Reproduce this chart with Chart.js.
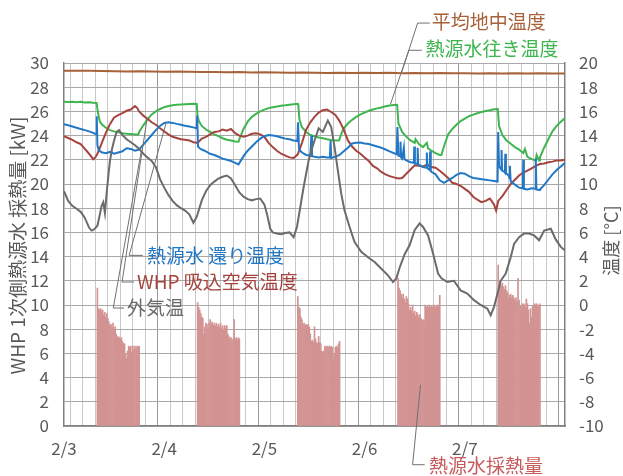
<!DOCTYPE html>
<html>
<head>
<meta charset="utf-8">
<script src="https://cdn.jsdelivr.net/npm/chart.js@4.4.1/dist/chart.umd.min.js"></script>
<style>
  html, body { margin: 0; padding: 0; background: #fff; }
  canvas { display: block; }
</style>
</head>
<body>
<canvas id="c" width="623" height="476"></canvas>
<script>
// ---- Data: time in hours from 2/3 00:00, temperatures in °C, heat in kW ----
const dayLabels = ['2/3', '2/4', '2/5', '2/6', '2/7'];

// 平均地中温度
const groundHours = [0,3,6,9,12,15,18,21,24,27,30,33,36,39,42,45,48,51,54,57,60,63,66,69,72,75,78,81,84,87,90,93,96,99,102,105,108,111,114,117,120];
const groundTemp  = [19.35,19.35,19.36,19.33,19.32,19.3,19.32,19.3,19.28,19.3,19.27,19.25,19.26,19.24,19.25,19.22,19.24,19.22,19.2,19.22,19.2,19.18,19.2,19.18,19.19,19.17,19.2,19.16,19.17,19.15,19.17,19.15,19.16,19.14,19.16,19.14,19.15,19.13,19.15,19.14,19.14];

// 熱源水往き温度
const supplyHours = [0,1,2,3,4,5,6,7,7.8,8.0,8.3,8.6,9,10,11,12,13,14,15,16,17,17.8,18,19,20,21,22,23,24,25,26,27,28,29,30,31,31.8,32.0,32.3,33,34,35,36,37,38,39,40,41,41.8,42,43,44,45,46,47,48,49,50,51,52,53,54,55,56,56.1,56.4,57,58,59,60,61,62,63,64,65,65.9,66.5,67,68,69,70,71,72,73,74,75,76,77,78,79,79.8,80.1,81,82,83,84,84.2,85,86,86.9,87.2,88,89,90,90.4,91,92,93,94,95,96,97,98,99,100,101,102,103,103.9,104.2,105,106,107,108,109,110,110.4,111,112,113,113.2,113.8,114,115,116,117,118,119,120];
const supplyTemp  = [16.8,16.78,16.8,16.76,16.8,16.74,16.76,16.72,16.7,16.2,15.6,15.15,14.95,14.65,14.45,14.35,14.27,14.2,14.16,14.13,14.1,14.1,14.3,14.85,15.35,15.75,16.0,16.2,16.35,16.45,16.5,16.55,16.58,16.6,16.62,16.64,16.62,15.6,15.2,14.8,14.5,14.3,14.1,13.95,13.78,13.66,13.6,13.52,13.5,13.7,14.55,15.15,15.55,15.8,16.0,16.15,16.27,16.35,16.4,16.46,16.5,16.55,16.6,16.63,16.6,15.3,14.7,14.3,14.05,13.95,13.85,13.78,13.7,13.64,13.6,13.62,14.2,14.6,15.0,15.3,15.55,15.75,15.9,16.05,16.15,16.25,16.33,16.42,16.48,16.52,16.55,15.0,14.3,13.9,13.6,13.4,13.7,13.3,13.05,13.4,12.95,12.75,12.55,12.4,12.4,13.1,14.1,14.55,14.9,15.2,15.4,15.6,15.73,15.85,15.95,16.03,16.1,16.18,16.2,14.8,14.05,13.6,13.33,13.05,12.85,12.55,12.9,12.25,12.05,11.95,12.4,11.95,12.2,13.0,13.7,14.35,14.8,15.15,15.45];

// 熱源水還り温度
const returnHours = [0,1,2,3,4,5,6,7,7.75,7.85,8.0,8.3,9,10,11,12,13,14,15,16,17,18,19,20,21,22,23,24,25,26,27,28,29,30,31,31.8,31.9,32.1,32.5,33,34,35,36,37,38,39,40,41,41.8,42.2,43,44,45,46,47,48,49,50,51,52,53,54,55,55.9,56.05,56.3,57,58,59,59.25,59.4,60,61,62,63,63.7,63.85,64.0,65,66,67,68,69,70,71,72,73,74,75,76,77,78,79,79.7,79.85,80.1,80.5,80.6,80.75,81,81.4,81.55,82,83,83.8,83.9,84.05,84.6,84.7,84.85,85.5,86,86.8,86.9,87.05,87.6,87.7,87.85,88,89,90,91,92,93,94,95,96,97,98,99,100,101,102,103,103.85,104.0,104.2,104.5,104.7,104.8,104.95,105.5,105.6,105.7,105.85,106.5,106.7,106.8,106.95,107,108,109,109.9,110.0,110.15,111,112,112.9,113.0,113.15,113.8,114,115,116,117,118,119,120];
const returnTemp  = [14.95,14.85,14.75,14.65,14.55,14.45,14.35,14.22,14.1,15.6,13.2,12.8,12.62,12.55,12.65,12.5,12.6,12.7,12.95,12.9,12.75,12.85,13.25,13.65,14.05,14.45,14.8,15.05,15.1,15.05,14.97,14.9,14.82,14.75,14.68,14.6,15.65,13.1,12.95,12.85,12.7,12.5,12.4,12.25,12.1,12.0,11.9,11.75,11.62,11.85,12.3,12.75,13.1,13.45,13.75,13.95,14.05,14.0,13.95,13.85,13.75,13.7,13.6,13.55,15.1,12.85,12.6,12.4,12.35,14.0,12.3,12.25,12.2,12.25,12.2,12.2,13.6,12.15,12.25,12.4,12.7,13.0,13.35,13.4,13.42,13.35,13.3,13.2,13.1,13.0,12.85,12.7,12.55,12.45,14.7,12.35,12.3,13.5,12.2,12.1,13.0,12.05,11.95,11.8,11.75,13.1,11.7,11.65,13.0,11.6,11.5,11.4,11.35,12.6,11.3,11.15,12.7,11.1,11.0,10.8,10.3,10.1,10.3,10.5,10.75,10.9,10.85,10.65,10.5,10.45,10.4,10.35,10.3,10.25,10.2,14.3,11.5,11.3,11.2,12.8,11.1,11.0,10.95,12.5,10.9,10.7,10.5,11.5,10.4,10.2,9.95,9.7,9.65,12.0,9.6,9.55,9.65,9.6,12.1,9.55,9.5,9.55,9.9,10.35,10.8,11.15,11.45,11.75];

// WHP吸込空気温度
const intakeHours = [0,1,2,3,4,5,6,7,7.5,8,8.5,9,10,11,12,13,14,15,16,17,17.5,18,19,20,21,22,23,24,25,26,27,28,29,30,31,32,33,34,35,36,37,38,39,40,41,42,43,44,45,46,47,48,49,50,51,52,53,54,55,56,57,58,59,60,61,62,63,64,65,66,67,68,69,70,71,72,73,74,75,76,77,78,79,80,81,82,83,84,85,86,87,88,89,90,91,92,93,94,95,96,97,98,99,100,101,102,103,103.5,104,105,106,107,108,109,110,111,112,113,114,115,116,117,118,119,120];
const intakeTemp  = [13.95,13.8,13.65,13.45,13.3,12.9,12.5,12.05,12.2,12.5,12.9,13.35,14.2,14.95,15.5,15.7,15.85,16.05,16.15,16.45,16.3,16.0,15.65,15.4,15.1,14.9,14.6,14.35,14.1,13.9,13.8,13.7,13.65,13.6,13.45,13.4,13.75,13.9,14.1,14.3,14.35,14.5,14.4,14.55,14.2,14.0,13.9,14.0,14.15,14.2,14.1,13.9,13.4,13.05,12.75,12.5,12.35,12.2,12.15,12.45,13.4,14.5,15.1,15.55,15.9,16.1,16.15,15.95,15.7,15.2,14.5,13.6,13.1,12.75,12.5,12.2,11.9,11.5,11.3,11.0,10.8,10.65,10.55,10.45,10.5,10.85,11.2,11.55,11.5,11.45,11.6,11.4,11.35,11.1,10.8,10.5,10.1,10.0,9.85,9.6,9.35,8.95,8.7,8.5,8.6,8.8,8.3,7.8,8.6,9.0,9.5,10.0,10.35,10.7,10.95,11.1,11.3,11.5,11.65,11.7,11.8,11.85,11.95,11.95,12.0];

// 外気温
const outdoorHours = [0,1,2,3,4,5,6,6.6,7,7.5,8,8.6,9,9.4,9.8,10.2,10.6,11,11.5,12,12.6,13.2,14,15,16,17,18,19,20,21,22,23,24,25,26,27,28,29,30,31,31.8,33,34,35,36,37,38,39,40,41,42,43,44,45,46,47,48,48.6,49.4,50,51,52,53,54,55,55.8,56.6,57.4,58.6,59.5,60.2,61,62,62.5,63.2,64,64.8,65.6,66.4,67.2,68.4,69.6,71.2,72.8,74.4,76,77.6,78.8,79.6,80.4,81.6,82.8,84,85.2,86,87.2,88.4,89.6,90.4,91.8,93.4,95,96.6,98.2,99.8,101.4,102.2,103,103.8,104.6,105.8,107,107.8,109,110.2,111.4,112.6,113.8,115,116.6,117.8,119,120];
const outdoorTemp  = [9.4,8.6,8.2,7.95,7.7,7.2,6.4,6.15,6.2,6.35,6.55,7.5,8.2,8.5,7.6,9.2,10.6,11.9,12.9,13.6,14.3,14.45,14.05,13.7,13.45,13.2,12.9,12.5,12.2,11.9,11.4,10.4,9.7,9.1,8.6,8.25,8.0,7.8,7.5,6.8,7.3,8.65,9.4,9.9,10.2,10.45,10.6,10.7,10.45,9.9,9.3,8.95,8.75,8.65,8.75,8.8,8.3,7.55,6.3,6.0,5.9,5.85,5.95,6.0,5.6,6.45,8.1,9.75,11.95,13.05,13.8,14.6,14.3,14.7,15.25,14.7,13.06,11.1,9.2,7.8,6.45,5.2,4.4,3.95,3.55,3.0,2.45,1.9,2.2,3.1,4.2,4.95,6.2,6.75,6.45,5.75,4.25,2.6,2.2,1.9,2.0,1.2,0.95,0.4,0.0,-0.3,-0.85,-0.15,0.9,2.0,2.6,3.95,5.05,5.6,5.9,5.9,5.75,5.35,6.15,6.3,5.4,4.8,4.5];

// 熱源水採熱量: operating blocks, one value every 15 minutes from each start hour
const extractStart = [8, 32, 56, 80, 104];
const extractKW = [
  [11.4,9.7,9.6,9.7,9.5,9.6,9.2,9.4,9.0,9.3,8.9,8.6,8.3,8.4,8.2,8.5,8.0,8.2,7.6,7.3,7.4,7.3,7.2,7.3,7.0,6.8,6.8,6.0,5.6,6.2,6.6,6.5,6.6,6.1,6.6,6.3,6.6,6.4,6.6,6.5,6.6],
  [10.2,9.8,9.6,9.3,9.0,8.9,7.6,8.2,8.5,8.4,8.0,8.5,8.8,8.4,8.6,8.3,8.5,8.3,8.5,8.2,8.4,8.2,8.5,8.1,8.3,8.0,8.3,8.1,8.3,7.6,7.4,7.2,7.3,7.0,7.2,8.8,7.2,7.3,7.1,7.3,7.2],
  [10.7,9.8,9.7,9.0,8.8,8.4,8.5,8.3,8.4,8.3,8.4,8.2,7.6,7.0,7.1,6.9,8.2,7.2,6.9,6.8,7.4,6.9,6.8,6.2,6.1,6.2,6.6,6.5,6.6,6.5,6.6,6.5,6.6,6.5,5.5,6.0,6.5,6.6,6.5,6.8,7.0],
  [12.2,11.4,11.2,10.9,10.6,10.9,10.5,10.2,10.7,10.5,10.1,9.6,9.8,9.5,10.0,9.3,9.5,9.1,9.4,9.2,9.0,9.2,8.9,8.7,8.8,8.7,10.0,9.8,9.9,9.8,10.0,9.8,9.9,9.8,10.0,9.9,9.8,9.9,10.0,9.9,10.8],
  [13.3,12.0,11.9,11.6,11.8,11.5,11.3,11.6,11.2,11.0,10.5,10.8,10.9,10.6,10.8,10.6,10.4,10.6,10.3,12.2,10.4,9.9,9.8,10.1,10.0,10.1,9.8,10.5,10.1,9.6,8.5,9.7,9.0,9.9,10.0,10.1,10.0,10.1,9.9,10.0,10.1]
];

// ---- Styling ----
const FONT = '"Noto Sans CJK JP", "Noto Sans", sans-serif';
const TEXT_GRAY = '#595959';
const COLORS = {
  ground: '#a8623a',
  supply: '#3fb54f',
  ret: '#2378c6',
  intake: '#a5443f',
  outdoor: '#6b6b6b',
  extract: '#d39393',
  extractText: '#c65b5b'
};

function toPoints(hours, values) {
  return hours.map((h, i) => ({ x: h, y: values[i] }));
}

const extractPoints = [];
extractStart.forEach((start, b) => {
  extractKW[b].forEach((v, i) => extractPoints.push({ x: start + i * 0.25, y: v }));
});

function lineSet(label, hours, values, color, order) {
  return {
    type: 'line', label, data: toPoints(hours, values), yAxisID: 'y2',
    borderColor: color, borderWidth: 2, pointRadius: 0, tension: 0,
    fill: false, order
  };
}

// Leader-line callouts, positioned in (hour, kW) units of the left axis
const callouts = [
  { text: '平均地中温度', color: COLORS.ground, at: [88.1, 33.4], corner: [84.7, 33.3], elbowEnd: 87.6, tip: [80.9, 29.25] },
  { text: '熱源水往き温度', color: COLORS.supply, at: [86.6, 31.2], corner: [82.6, 31.05], elbowEnd: 85.7, tip: [78.2, 26.6] },
  { text: '熱源水 還り温度', color: COLORS.ret, at: [19.9, 14.1], corner: [15.6, 14.1], elbowEnd: 18.9, tip: [24.5, 25.1] },
  { text: 'WHP 吸込空気温度', color: COLORS.intake, at: [17.5, 11.9], corner: [13.9, 11.9], elbowEnd: 16.8, tip: [19.9, 25.4] },
  { text: '外気温', color: COLORS.outdoor, at: [15.1, 9.75], corner: [11.8, 9.75], elbowEnd: 14.4, tip: [18.5, 22.7] },
  { text: '熱源水採熱量', color: COLORS.extractText, at: [87.4, -3.25], corner: [83.5, -3.2], elbowEnd: 86.4, tip: [85.4, 3.4] }
];

const calloutPlugin = {
  id: 'callouts',
  afterDraw(chart) {
    const { ctx, scales } = chart;
    const xs = scales.x, ys = scales.y;
    const px = h => xs.getPixelForValue(h);
    const py = v => ys.getPixelForValue(v);
    ctx.save();
    callouts.forEach(c => {
      ctx.strokeStyle = '#707070';
      ctx.lineWidth = 1;
      ctx.beginPath();
      ctx.moveTo(px(c.tip[0]), py(c.tip[1]));
      ctx.lineTo(px(c.corner[0]), py(c.corner[1]));
      ctx.lineTo(px(c.elbowEnd), py(c.corner[1]));
      ctx.stroke();
      ctx.fillStyle = c.color;
      ctx.font = '19px ' + FONT;
      ctx.textAlign = 'left';
      ctx.textBaseline = 'middle';
      ctx.fillText(c.text, px(c.at[0]), py(c.at[1]));
    });
    ctx.restore();
  }
};

const axisTitlePlugin = {
  id: 'axisTitles',
  afterDraw(chart) {
    const { ctx, chartArea } = chart;
    const midY = (chartArea.top + chartArea.bottom) / 2;
    ctx.save();
    ctx.fillStyle = TEXT_GRAY;
    ctx.font = '19px ' + FONT;
    ctx.textAlign = 'center';
    ctx.textBaseline = 'middle';
    ctx.translate(18, midY + 1);
    ctx.rotate(-Math.PI / 2);
    ctx.fillText('WHP 1次側熱源水 採熱量 [kW]', 0, 0);
    ctx.restore();
    ctx.save();
    ctx.fillStyle = TEXT_GRAY;
    ctx.font = '18px ' + FONT;
    ctx.textAlign = 'center';
    ctx.textBaseline = 'middle';
    ctx.translate(611, midY - 4);
    ctx.rotate(-Math.PI / 2);
    ctx.fillText('温度 [°C]', 0, 0);
    ctx.restore();
  }
};

const tickFont = { family: FONT, size: 17 };

new Chart(document.getElementById('c'), {
  type: 'bar',
  data: {
    datasets: [
      lineSet('平均地中温度', groundHours, groundTemp, COLORS.ground, 5),
      lineSet('熱源水往き温度', supplyHours, supplyTemp, COLORS.supply, 4),
      lineSet('熱源水還り温度', returnHours, returnTemp, COLORS.ret, 2),
      lineSet('WHP吸込空気温度', intakeHours, intakeTemp, COLORS.intake, 3),
      lineSet('外気温', outdoorHours, outdoorTemp, COLORS.outdoor, 1),
      {
        type: 'bar', label: '熱源水採熱量', data: extractPoints, yAxisID: 'y',
        backgroundColor: COLORS.extract, borderWidth: 0,
        barPercentage: 1.0, categoryPercentage: 1.0, order: 10
      }
    ]
  },
  options: {
    responsive: false,
    animation: false,
    devicePixelRatio: 1,
    layout: { padding: { top: 63, left: 0, right: 0, bottom: 0 } },
    plugins: { legend: { display: false }, tooltip: { enabled: false } },
    scales: {
      x: {
        type: 'linear', min: 0, max: 120, offset: false,
        ticks: {
          stepSize: 3, autoSkip: false, maxRotation: 0, padding: 12,
          color: TEXT_GRAY, font: tickFont,
          callback: v => (v % 24 === 0 && v < 120) ? dayLabels[v / 24] : ''
        },
        grid: {
          drawTicks: false, lineWidth: 1,
          color: ctx => (ctx.tick && ctx.tick.value % 24 === 0) ? '#9a9a9a' : '#c8c8c8'
        },
        border: { color: '#808080', width: 1.5 },
        afterFit: s => { s.height = 50; }
      },
      y: {
        position: 'left', min: 0, max: 30,
        ticks: { stepSize: 2, padding: 15, color: TEXT_GRAY, font: tickFont },
        grid: { color: '#a8a8a8', drawTicks: false, lineWidth: 1 },
        border: { color: '#808080', width: 1.5 },
        afterFit: s => { s.width = 64; }
      },
      y2: {
        position: 'right', min: -10, max: 20,
        ticks: { stepSize: 2, padding: 14, color: TEXT_GRAY, font: tickFont },
        grid: { drawOnChartArea: false, drawTicks: false },
        border: { color: '#808080', width: 1.5 },
        afterFit: s => { s.width = 58; }
      }
    }
  },
  plugins: [calloutPlugin, axisTitlePlugin]
});
</script>
</body>
</html>
